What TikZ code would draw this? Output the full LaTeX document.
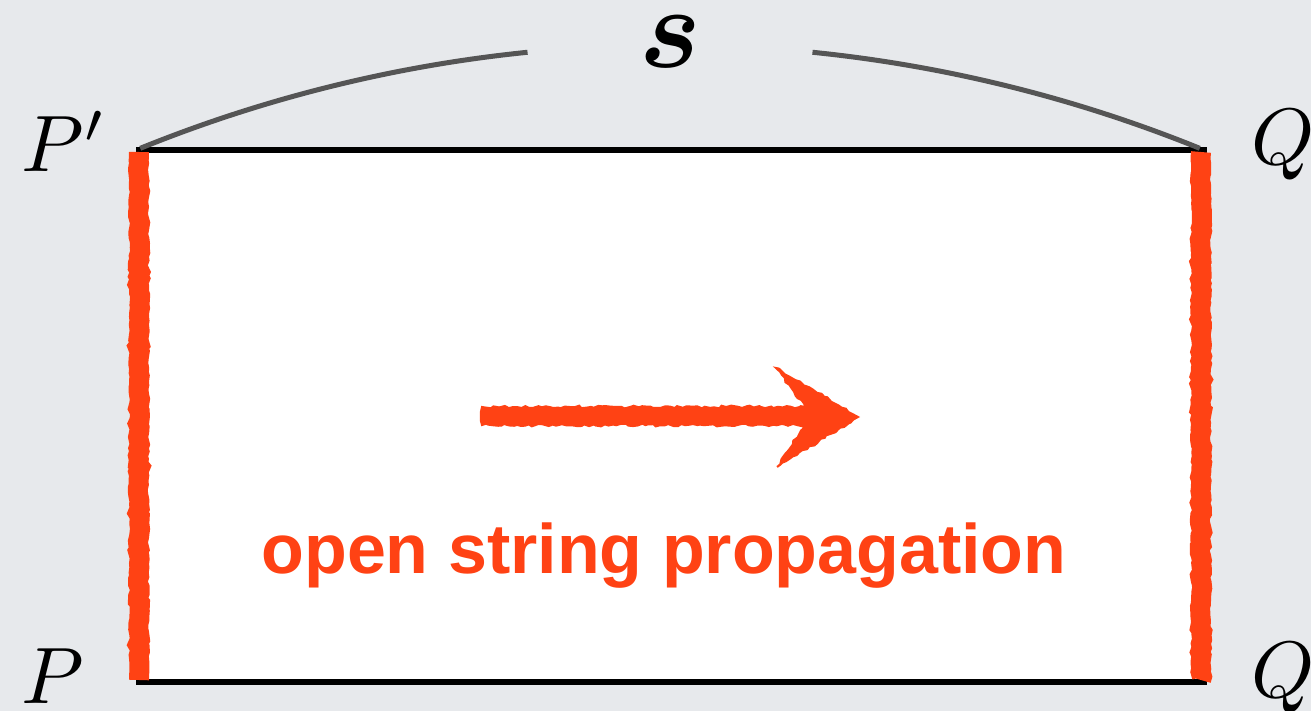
\documentclass[tikz,border=0pt]{standalone}
\usepackage{amsmath}
\usepackage{fontspec}
\newfontfamily\labelfont{Liberation Sans}
\usetikzlibrary{decorations.pathmorphing}
\definecolor{bg}{RGB}{231,233,236}
\definecolor{chalk}{RGB}{255,66,20}
\definecolor{arcgray}{RGB}{85,85,85}
\tikzset{
  edgeline/.style={line width=2.6pt, black},
  chalkline/.style={chalk, line width=10pt, decorate, decoration={random steps, segment length=2pt, amplitude=0.6pt}},
  chalkfill/.style={fill=chalk, draw=chalk, line width=1pt, decorate, decoration={random steps, segment length=2pt, amplitude=0.7pt}},
  arcline/.style={arcgray, line width=2.5pt},
  corner/.style={scale=4, inner sep=0pt},
}
\begin{document}
\begin{tikzpicture}[x=0.5pt,y=-0.5pt]
\useasboundingbox (0,0) rectangle (1311,711);
\fill[bg] (0,0) rectangle (1311,711);
% sheet
\fill[white] (137,150) rectangle (1205,682);
\coordinate (tl) at (136,150);
\coordinate (tr) at (1207,150);
\coordinate (bl) at (136,682);
\coordinate (br) at (1207,682);
\draw[edgeline] (tl) -- (tr);
\draw[edgeline] (bl) -- (br);
% boundaries
\coordinate (lt) at (139,152);
\coordinate (lb) at (139,680);
\coordinate (rt) at (1201,152);
\coordinate (rb) at (1201,680);
\draw[chalkline] (lt) -- (lb);
\draw[chalkline] (rt) -- (rb);
% s arc
\draw[arcline] (670,1455) ++(-112.07:1410) arc[start angle=-112.07, end angle=-95.8, radius=1410];
\draw[arcline] (670,1455) ++(-84.2:1410) arc[start angle=-84.2, end angle=-67.93, radius=1410];
\node[scale=5.8, inner sep=0pt] (s) at (670,42) {$\boldsymbol{s}$};
% corner labels
\node[corner, anchor=base west] (Pp) at (20,172) {$P'$};
\node[corner, anchor=base west] (P) at (20,703) {$P$};
\node[corner, anchor=base west] (Qt) at (1250,165) {$Q$};
\node[corner, anchor=base west] (Qb) at (1250,697) {$Q$};
% arrow
\fill[chalkfill] (482,407) -- (805,407) -- (776,368) -- (858,417) -- (777,467) -- (805,425) -- (482,425) -- cycle;
% label
\node[text=chalk, font=\labelfont\bfseries\fontsize{35}{40}\selectfont, anchor=base, inner sep=0pt] (lab) at (664,573) {open string propagation};
\end{tikzpicture}
\end{document}
